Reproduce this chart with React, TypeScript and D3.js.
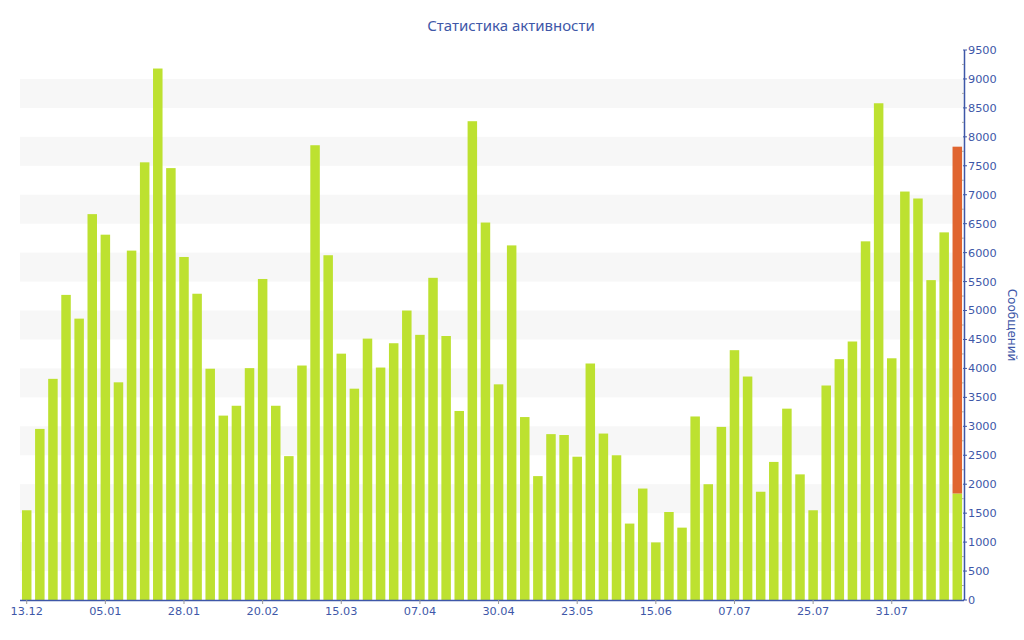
import * as d3 from 'd3'

// messages per period; last bar is split into two parts
const values = [
  1550, 2955, 3820, 5270, 4860, 6665, 6310, 3760, 6035, 7560, 9180, 7460,
  5925, 5290, 3995, 3185, 3355, 4005, 5545, 3355, 2485, 4050, 7855, 5955,
  4255, 3650, 4515, 4015, 4435, 5000, 4580, 5565, 4560, 3265, 8270, 6520,
  3725, 6125, 3160, 2140, 2865, 2850, 2475, 4085, 2875, 2500, 1320, 1925,
  995, 1520, 1250, 3170, 2000, 2990, 4315, 3860, 1870, 2385, 3305, 2170,
  1550, 3705, 4160, 4465, 6195, 8580, 4175, 7055, 6935, 5525, 6350, 1840,
]
const extra = values.map((_, i) => (i === values.length - 1 ? 5990 : 0))

const tickLabels = ['13.12', '05.01', '28.01', '20.02', '15.03', '07.04', '30.04', '23.05', '15.06', '07.07', '25.07', '31.07']
const tickIndex = tickLabels.map((_, i) => i * 6)

const yTicks = d3.range(0, 9501, 500)
const yMinor = d3.range(250, 9500, 500)
const bands = d3.range(500, 9000, 1000)

const W = 1024, H = 640
const left = 20, right = 964, top = 50, bottom = 600
const blue = '#3e57a8'

const App = () => {
  const x = d3.scaleBand<number>()
    .domain(values.map((_, i) => i))
    .range([left, right])
    .paddingInner(0.275)
    .paddingOuter(0.15)
  const y = d3.scaleLinear().domain([0, 9500]).range([bottom, top])
  const bw = x.bandwidth()

  return (
    <svg width={W} height={H} style={{ position: 'absolute', left: 0, top: 0, background: '#fff' }}
      fontFamily="'DejaVu Sans', Verdana, sans-serif">
      <text x={511} y={31} textAnchor="middle" fill={blue} fontSize={15} fontFamily="'Noto Sans', sans-serif">
        Статистика активности
      </text>

      {bands.map(b => (
        <rect key={b} x={left} width={right - left} y={y(b + 500)} height={y(b) - y(b + 500)} fill="#f7f7f7" />
      ))}

      {values.map((v, i) => (
        <g key={i}>
          <rect x={x(i)} width={bw} y={y(v)} height={y(0) - y(v)} fill="#bde130" />
          {extra[i] > 0 && (
            <rect x={x(i)} width={bw} y={y(v + extra[i])} height={y(v) - y(v + extra[i])} fill="#e06530" />
          )}
        </g>
      ))}

      {/* x axis */}
      <line x1={left} x2={right} y1={bottom + 0.5} y2={bottom + 0.5} stroke={blue} strokeWidth={1.5} />
      {tickIndex.map((ti, k) => {
        const cx = (x(ti) ?? 0) + bw / 2
        return (
          <g key={k}>
            <line x1={cx} x2={cx} y1={bottom} y2={bottom + 4} stroke="#999" />
            <text x={cx} y={615} textAnchor="middle" fontSize={11.3} fill={blue}>{tickLabels[k]}</text>
          </g>
        )
      })}

      {/* y axis on the right */}
      <line x1={right + 0.5} x2={right + 0.5} y1={top} y2={bottom} stroke={blue} strokeWidth={1.5} />
      {yMinor.map(t => (
        <line key={t} x1={right - 2} x2={right} y1={y(t)} y2={y(t)} stroke="#aaa" />
      ))}
      {yTicks.map(t => (
        <g key={t}>
          <line x1={right - 1} x2={right + 3} y1={y(t)} y2={y(t)} stroke={blue} />
          <text x={right + 4} y={y(t)} dy="0.35em" fontSize={11.3} fill={blue}>{t}</text>
        </g>
      ))}
      <text transform={`translate(1008,${(top + bottom) / 2}) rotate(90)`} textAnchor="middle" fontSize={12} fill={blue}>
        Сообщений
      </text>
    </svg>
  )
}

export default App
